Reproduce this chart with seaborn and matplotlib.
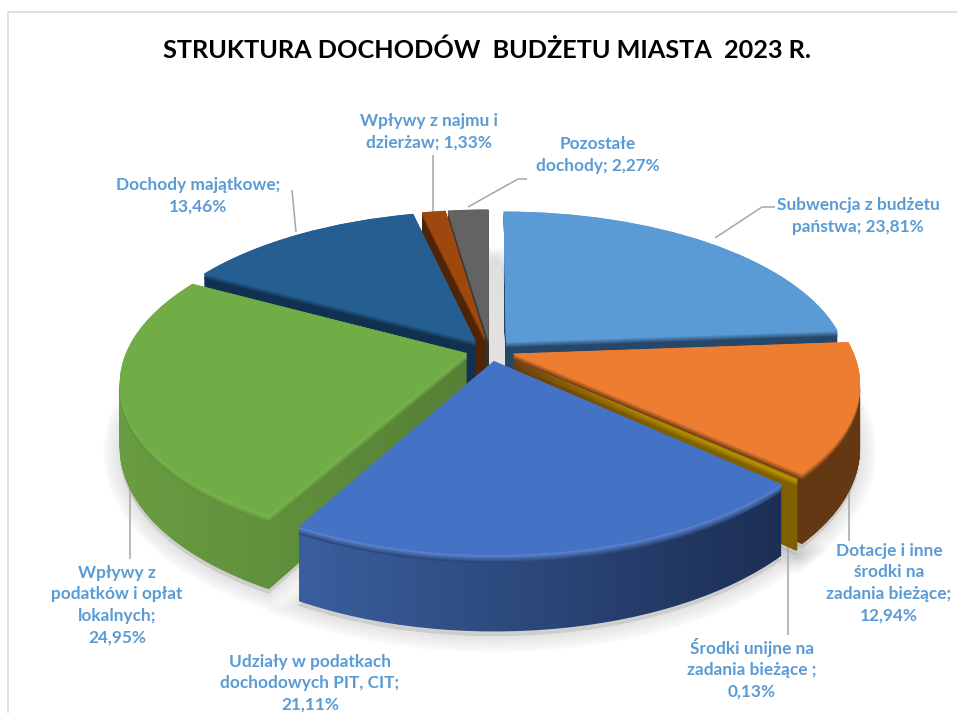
# 3D-looking exploded pie: budget income structure
import numpy as np
import matplotlib
matplotlib.use('Agg')
import matplotlib.pyplot as plt
import seaborn as sns
from matplotlib.patches import PathPatch
from matplotlib.path import Path
from matplotlib.transforms import Transform

title = 'STRUKTURA DOCHODÓW  BUDŻETU MIASTA  2023 R.'

# slices, clockwise from 12 o'clock
names = ['Subwencja z budżetu\npaństwa', 'Dotacje i inne\nśrodki na\nzadania bieżące',
         'Środki unijne na\nzadania bieżące ', 'Udziały w podatkach\ndochodowych PIT, CIT',
         'Wpływy z\npodatków i opłat\nlokalnych', 'Dochody majątkowe',
         'Wpływy z najmu i\ndzierżaw', 'Pozostałe\ndochody']
values = [23.81, 12.94, 0.13, 21.11, 24.95, 13.46, 1.33, 2.27]
sep = ['; ', ';\n', ';\n', ';\n', ';\n', ';\n', '; ', '; ']

top_colors = ['#5B9BD5', '#ED7D31', '#A57C00', '#4472C4', '#70AD47', '#255E91', '#9E480E', '#636363']
rim_colors = ['#5B9BD5', '#ED7D31', '#C49A00', '#5F88D6', '#7CBB50', '#255E91', '#9E480E', '#636363']
wall_left = ['#27476A', '#6A3C14', '#7F6000', '#3A5F9E', '#6A9E42', '#12304F', '#4F2407', '#333333']
wall_right = ['#27476A', '#633812', '#7F6000', '#1C2E54', '#568035', '#12304F', '#4F2407', '#333333']

# back to front drawing order
draw_order = [7, 6, 5, 0, 4, 1, 2, 3]

label_xy = [(858, 216), (889, 583), (752, 669), (310, 683), (117, 605), (198, 196), (429, 132), (598, 155)]
leaders = [[(775, 207), (762, 207), (715, 238)], [(849, 470), (849, 541)], [(788, 540), (788, 635)],
           [], [(130, 450), (130, 559)], [(292, 190), (296, 232)], [(432.5, 155), (432.5, 212)],
           [(527, 179), (518, 179), (468, 207)]]

CX, CY = 490, 350
RX, RY = 340, 156
PERSP = 0.175
DEPTH = 62
EXPL = 0.07


class Tilt(Transform):
    # flat pie -> pixels, z is how far down the slice wall
    input_dims = 2
    output_dims = 2

    def __init__(self, z=0.0):
        super().__init__()
        self.z = z

    def transform_non_affine(self, xy):
        xy = np.asarray(xy)
        s = 1 / (1 + PERSP * xy[:, 1])
        return np.column_stack([CX + RX * xy[:, 0] * s, CY - RY * xy[:, 1] * s + DEPTH * self.z * s])


def sweep(path, z_values):
    return Path.make_compound_path(*[Tilt(z).transform_path(path) for z in z_values])


sns.set_theme(style='white')
plt.rcParams['font.family'] = ['Lato', 'DejaVu Sans']

fig = plt.figure(figsize=(9.57, 7.13), dpi=100, facecolor='white')
ax = fig.add_axes([0, 0, 1, 1])

wedges, _ = ax.pie(values, explode=[EXPL] * len(values), startangle=90, counterclock=False,
                   colors=top_colors, wedgeprops={'linewidth': 0})
ax.set_aspect('auto')
ax.set_axis_off()

# soft shadow under the whole pie
for lw in np.arange(2, 26, 2):
    for w in wedges:
        ax.add_patch(PathPatch(Tilt(1.06).transform_path(w.get_path()), facecolor='#909090', edgecolor='#909090',
                               lw=lw, alpha=0.018, zorder=1))

# leader lines go behind the pie
for pts in leaders:
    if pts:
        xs, ys = zip(*pts)
        ax.plot(xs, ys, color='#A6A6A6', lw=1.1, zorder=1.5, solid_capstyle='butt')

z = 2
for i in draw_order:
    w = wedges[i]
    base = w.get_path()
    # wall with a left to right gradient, clipped to the swept slice
    wall = sweep(base, np.linspace(1, 0.05, 60))
    x0, y0 = wall.vertices.min(axis=0)
    x1, y1 = wall.vertices.max(axis=0)
    im = ax.imshow(np.linspace(0, 1, 256)[None, :], extent=(x0, x1, y1, y0), aspect='auto', zorder=z,
                   cmap=sns.blend_palette([wall_left[i], wall_right[i]], as_cmap=True))
    im.set_clip_path(wall, ax.transData)
    z += 1
    # soft edge between wall and top face
    mid = sns.blend_palette([wall_left[i], wall_right[i]], 3)[1]
    rim = sns.blend_palette([mid, rim_colors[i]], 8)
    for zz, c in zip(np.linspace(0.10, 0.005, 8), rim):
        ax.add_patch(PathPatch(Tilt(zz).transform_path(base), facecolor=c, edgecolor='none', zorder=z))
        z += 1
    w.set_transform(Tilt(0) + ax.transData)
    w.set_zorder(z)
    z += 1
ax.set_xlim(0, 957)
ax.set_ylim(713, 0)

# data labels
for name, v, s, (x, y) in zip(names, values, sep, label_xy):
    txt = name + s + f'{v:.2f}%'.replace('.', ',')
    ax.text(x, y, txt, ha='center', va='center', color='#5B9BD5', fontsize=12.4, fontweight='bold',
            linespacing=1.42, zorder=z + 1)

ax.text(487, 50, title, ha='center', va='center', color='black', fontsize=18.2, fontweight='bold', zorder=z + 1)

# chart frame
ax.plot([8, 8, 957], [713, 12, 12], color='#D9D9D9', lw=1.2, zorder=z)

fig.savefig('out.png', dpi=100)
